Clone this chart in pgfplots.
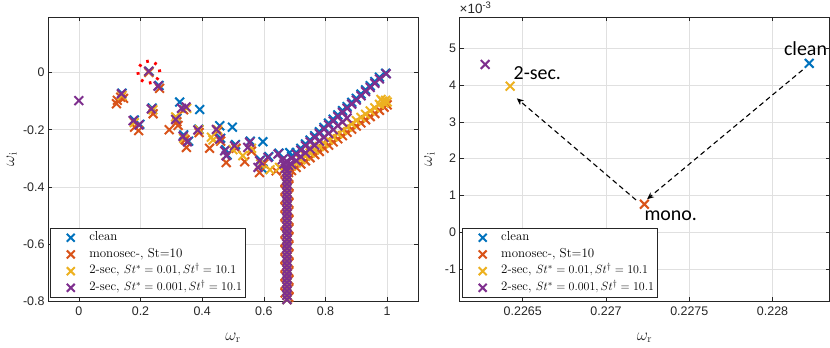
\documentclass[border=0pt]{standalone}
\usepackage[no-math]{fontspec}
\setmainfont{Liberation Sans}
\newfontfamily\lmr{Latin Modern Roman}
\newfontfamily\calib{Carlito}
\usepackage{pgfplots}
\usepackage{pgfplotstable}
\usetikzlibrary{arrows.meta}
\pgfplotsset{compat=1.18}
\definecolor{cblue}{rgb}{0,0.447,0.741}
\definecolor{corange}{rgb}{0.85,0.325,0.098}
\definecolor{cyellow}{rgb}{0.929,0.694,0.125}
\definecolor{cpurple}{rgb}{0.494,0.184,0.556}
\definecolor{axgray}{rgb}{0.15,0.15,0.15}
\definecolor{grgray}{rgb}{0.88,0.88,0.88}

\pgfplotstableread{
x y
0.675 -0.345
0.675 -0.360
0.675 -0.375
0.675 -0.390
0.675 -0.405
0.675 -0.420
0.675 -0.435
0.675 -0.450
0.675 -0.465
0.675 -0.480
0.675 -0.495
0.675 -0.510
0.675 -0.525
0.675 -0.540
0.675 -0.555
0.675 -0.570
0.675 -0.585
0.675 -0.600
0.675 -0.615
0.675 -0.630
0.675 -0.645
0.675 -0.660
0.675 -0.675
0.675 -0.690
0.675 -0.705
0.675 -0.720
0.675 -0.735
0.675 -0.750
0.675 -0.765
0.675 -0.780
0.675 -0.795
0.675 -0.810
}\vbranch

\pgfplotstableread{
x y
0.669 -0.352
0.681 -0.367
0.669 -0.382
0.681 -0.397
0.669 -0.412
0.681 -0.427
0.669 -0.442
0.681 -0.457
0.669 -0.472
0.681 -0.487
0.669 -0.502
0.681 -0.517
0.669 -0.532
0.681 -0.547
0.669 -0.562
0.681 -0.577
0.669 -0.592
0.681 -0.607
0.669 -0.622
0.681 -0.637
0.669 -0.652
0.681 -0.667
0.669 -0.682
0.681 -0.697
0.669 -0.712
0.681 -0.727
0.669 -0.742
0.681 -0.757
0.669 -0.772
0.681 -0.787
0.669 -0.802
}\vbranchb

\pgfplotsset{
  xs/.style={only marks, mark=x, mark size=6.2bp, color=#1, mark options={line width=2bp, solid}},
  myax/.style={
    scale only axis, width=370bp, height=284bp,
    scaled x ticks=false, scaled y ticks=false,
    axis line style={axgray, line width=0.6bp},
    tick style={axgray, line width=0.6bp},
    major tick length=4bp,
    grid=major, major grid style={grgray, line width=0.6bp},
    ticklabel style={font=\fontsize{12.5}{14}\selectfont, text=axgray},
    xticklabel style={yshift=-2bp},
    label style={font=\fontsize{16}{18}\selectfont, text=axgray},
    legend cell align=left,
    legend style={anchor=south west, draw=axgray, line width=0.6bp,
      font=\lmr\fontsize{13}{15}\selectfont, inner sep=1.5bp, row sep=0bp,
      nodes={inner sep=2bp, text height=9.2bp, text depth=3.5bp}},
    legend image code/.code={\path[draw=none] (-19bp,0) -- (16.5bp,0); \draw[##1, only marks, mark size=5.6bp] plot coordinates {(0bp,0bp)};},
  }
}

\begin{document}
\begin{tikzpicture}
\path[use as bounding box] (0,0) rectangle (830bp,348bp);

% ---------------- left axis
\begin{axis}[myax, at={(48bp,47bp)}, anchor=south west,
  xmin=-0.1, xmax=1.1, ymin=-0.8, ymax=0.195,
  xtick={0,0.2,0.4,0.6,0.8,1}, xticklabels={0,0.2,0.4,0.6,0.8,1},
  ytick={-0.8,-0.6,-0.4,-0.2,0}, yticklabels={-0.8,-0.6,-0.4,-0.2,0},
  xlabel={$\omega_{\mathrm{r}}$}, ylabel={$\omega_{\mathrm{i}}$},
  xlabel style={at={(axis description cs:0.5,-0.130)}, anchor=center},
  ylabel style={at={(axis description cs:-0.098,0.5)}, anchor=center},
  legend style={at={(axis description cs:0.0054,0.0106)}},
]
% clean
\addplot[xs=cblue] coordinates {
(0.2282,0.0046) (0.26,-0.045) (0.14,-0.072) (0.238,-0.124) (0.18,-0.166) (0.198,-0.181)
(0.327,-0.103) (0.392,-0.129) (0.457,-0.186) (0.498,-0.191) (0.597,-0.242) (0.684,-0.280)
(0.597,-0.338) (0.318,-0.160) (0.340,-0.218) (0.356,-0.240) (0.389,-0.198) (0.46,-0.230)
(0.476,-0.270) (0.481,-0.288) (0.508,-0.252) (0.556,-0.240) (0.589,-0.306) (0.616,-0.294)
(0.649,-0.282)
(0.690,-0.294) (0.705,-0.280) (0.720,-0.265) (0.735,-0.250) (0.750,-0.236) (0.765,-0.221)
(0.780,-0.207) (0.795,-0.192) (0.810,-0.177) (0.825,-0.163) (0.840,-0.148) (0.855,-0.133)
(0.870,-0.119) (0.885,-0.104) (0.900,-0.090) (0.915,-0.075) (0.930,-0.060) (0.945,-0.046)
(0.960,-0.031) (0.975,-0.016) (0.995,-0.002)
};
\addlegendentry{clean}
\addplot[xs=cblue, forget plot] table {\vbranch};
% monosec
\addplot[xs=corange] coordinates {
(0.2272,0.0008) (0.122,-0.109) (0.125,-0.097) (0.136,-0.086) (0.145,-0.090)
(0.181,-0.191) (0.194,-0.203) (0.241,-0.144) (0.262,-0.055)
(0.293,-0.200) (0.322,-0.185) (0.318,-0.172) (0.349,-0.262) (0.345,-0.235)
(0.390,-0.210) (0.424,-0.265) (0.478,-0.315) (0.538,-0.312) (0.586,-0.350) (0.640,-0.344)
(0.460,-0.240) (0.510,-0.265) (0.560,-0.275) (0.600,-0.320) (0.340,-0.130) (0.450,-0.205)
(0.665,-0.340) (0.680,-0.350)
(0.690,-0.343) (0.705,-0.332) (0.720,-0.320) (0.735,-0.309) (0.750,-0.298) (0.765,-0.287)
(0.780,-0.276) (0.795,-0.265) (0.810,-0.254) (0.825,-0.243) (0.840,-0.232) (0.855,-0.221)
(0.870,-0.209) (0.885,-0.198) (0.900,-0.187) (0.915,-0.176) (0.930,-0.165) (0.945,-0.154)
(0.960,-0.143) (0.975,-0.132) (0.990,-0.121) (1.000,-0.113)
};
\addlegendentry{monosec-, St=10}
\addplot[xs=corange, forget plot] table {\vbranchb};
% 2-sec 0.01
\addplot[xs=cyellow] coordinates {
(0.2264,0.0040) (0.314,-0.155) (0.430,-0.226) (0.435,-0.236) (0.532,-0.291) (0.651,-0.332)
(0.340,-0.230) (0.590,-0.320) (0.500,-0.270) (0.620,-0.340) (0.240,-0.130) (0.180,-0.175)
(0.140,-0.080) (0.350,-0.125) (0.390,-0.200) (0.450,-0.200) (0.560,-0.265)
(0.690,-0.327) (0.705,-0.316) (0.720,-0.305) (0.735,-0.293) (0.750,-0.282) (0.765,-0.271)
(0.780,-0.259) (0.795,-0.248) (0.810,-0.236) (0.825,-0.225) (0.840,-0.214) (0.855,-0.202)
(0.870,-0.191) (0.885,-0.180) (0.900,-0.168) (0.915,-0.157) (0.930,-0.146) (0.945,-0.134)
(0.960,-0.123) (0.975,-0.111) (0.985,-0.100) (0.990,-0.106) (0.995,-0.097) (1.000,-0.103)
(0.980,-0.094)
};
\addlegendentry{2-sec, $St^{*}=0.01, St^{\dagger}=10.1$}
\addplot[xs=cyellow, forget plot] table {\vbranch};
% 2-sec 0.001
\addplot[xs=cpurple] coordinates {
(0.000,-0.098) (0.2263,0.0046) (0.257,-0.047) (0.138,-0.074) (0.235,-0.127) (0.176,-0.168)
(0.195,-0.183) (0.314,-0.164) (0.333,-0.125) (0.348,-0.120) (0.338,-0.223) (0.352,-0.242)
(0.386,-0.201) (0.446,-0.199) (0.457,-0.233) (0.473,-0.274) (0.478,-0.291) (0.505,-0.256)
(0.548,-0.262) (0.554,-0.244) (0.586,-0.309) (0.581,-0.332) (0.613,-0.297) (0.646,-0.285)
(0.660,-0.305) (0.665,-0.320) (0.670,-0.335) (0.675,-0.310) (0.680,-0.325)
(0.690,-0.300) (0.705,-0.286) (0.720,-0.271) (0.735,-0.256) (0.750,-0.242) (0.765,-0.227)
(0.780,-0.213) (0.795,-0.198) (0.810,-0.183) (0.825,-0.169) (0.840,-0.154) (0.855,-0.139)
(0.870,-0.125) (0.885,-0.110) (0.900,-0.096) (0.915,-0.081) (0.930,-0.066) (0.945,-0.052)
(0.960,-0.037) (0.975,-0.022) (0.997,-0.004)
(0.690,-0.321) (0.705,-0.308) (0.720,-0.294) (0.735,-0.281) (0.750,-0.267) (0.765,-0.254)
(0.780,-0.240) (0.795,-0.227) (0.810,-0.213) (0.825,-0.200) (0.840,-0.186) (0.855,-0.173)
(0.870,-0.159)
};
\addlegendentry{2-sec, $St^{*}=0.001, St^{\dagger}=10.1$}
\addplot[xs=cpurple, forget plot] table {\vbranch};
% red dotted circle
\addplot[forget plot, only marks, mark=o, mark size=11bp,
  mark options={red, line width=3bp, dash pattern=on 2.6bp off 6bp}]
  coordinates {(0.227,0.002)};
\end{axis}

% ---------------- right axis
\begin{axis}[myax, at={(459.5bp,47bp)}, anchor=south west, width=370bp, clip=false,
  xmin=0.22612, xmax=0.228342, ymin=-0.00187, ymax=0.00585,
  xtick={0.2265,0.227,0.2275,0.228}, xticklabels={0.2265,0.227,0.2275,0.228},
  ytick={-0.001,0,0.001,0.002,0.003,0.004,0.005}, yticklabels={-1,0,1,2,3,4,5},
  xlabel={$\omega_{\mathrm{r}}$}, ylabel={$\omega_{\mathrm{i}}$},
  xlabel style={at={(axis description cs:0.5,-0.130)}, anchor=center},
  ylabel style={at={(axis description cs:-0.081,0.5)}, anchor=center},
  legend style={at={(axis description cs:0.0065,0.0106)}},
]
\addplot[xs=cblue] coordinates {(0.22822,0.00459)};
\addlegendentry{clean}
\addplot[xs=corange] coordinates {(0.22723,0.00076)};
\addlegendentry{monosec-, St=10}
\addplot[xs=cyellow] coordinates {(0.226424,0.00397)};
\addlegendentry{2-sec, $St^{*}=0.01, St^{\dagger}=10.1$}
\addplot[xs=cpurple] coordinates {(0.226274,0.00456)};
\addlegendentry{2-sec, $St^{*}=0.001, St^{\dagger}=10.1$}
\draw[black, line width=1.1bp, dash pattern=on 5bp off 3.5bp, -{Stealth[length=7bp,width=6bp]}]
  (axis cs:0.22818,0.00441) -- (axis cs:0.227246,0.000896);
\draw[black, line width=1.1bp, dash pattern=on 5bp off 3.5bp, -{Stealth[length=7bp,width=6bp]}]
  (axis cs:0.22718,0.000877) -- (axis cs:0.226464,0.00364);
\node[anchor=base east, inner sep=0pt, font=\calib\fontsize{20}{22}\selectfont] at (axis cs:0.228328,0.00481) {clean};
\node[anchor=base west, inner sep=0pt, font=\calib\fontsize{20}{22}\selectfont] at (axis cs:0.226444,0.00415) {2-sec.};
\node[anchor=base west, inner sep=0pt, font=\calib\fontsize{20}{22}\selectfont] at (axis cs:0.22723,0.000315) {mono.};
\node[anchor=base west, inner sep=0pt, text=axgray, font=\fontsize{13.5}{15}\selectfont] at (rel axis cs:0,1) [yshift=3.5bp] {×10\textsuperscript{-3}};
\end{axis}
\end{tikzpicture}
\end{document}
